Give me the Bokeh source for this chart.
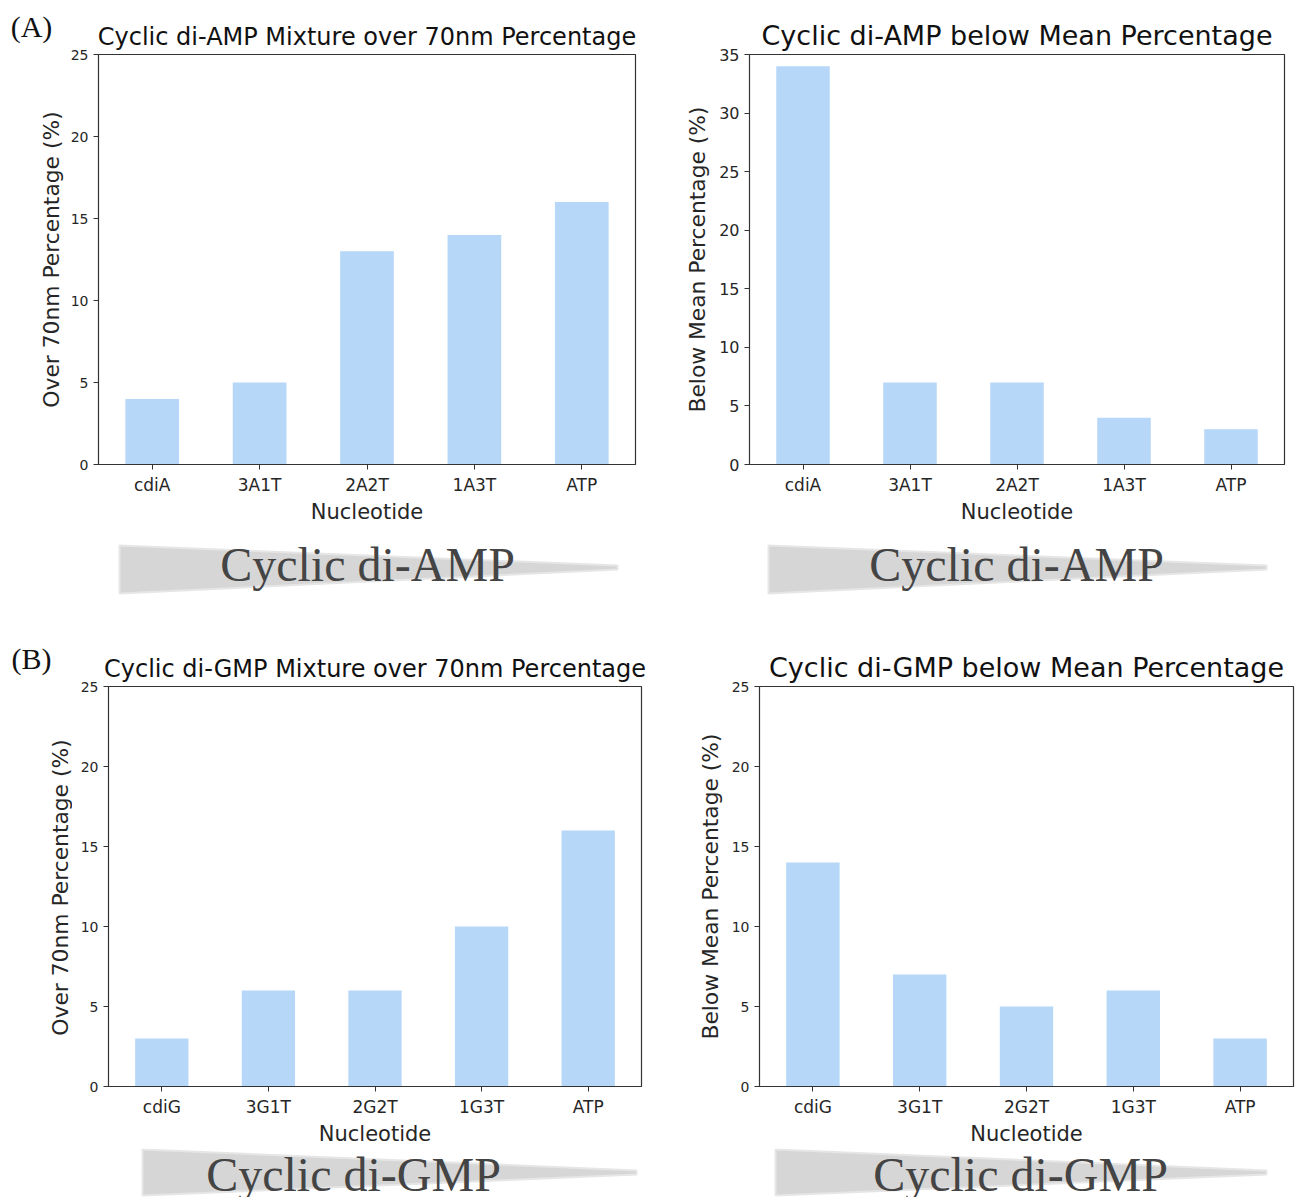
import math
from bokeh.plotting import figure
from bokeh.layouts import column, row
from bokeh.models import Range1d, FactorRange, FixedTicker, LinearAxis
from bokeh.embed import file_html
from bokeh.resources import INLINE
from bokeh.core.properties import value

# ---------------- data ----------------
amp_categories = ["cdiA", "3A1T", "2A2T", "1A3T", "ATP"]
gmp_categories = ["cdiG", "3G1T", "2G2T", "1G3T", "ATP"]
amp_over70 = [4, 5, 13, 14, 16]
amp_below_mean = [34, 7, 7, 4, 3]
gmp_over70 = [3, 6, 6, 10, 16]
gmp_below_mean = [14, 7, 5, 6, 3]
ticks_25 = [0, 5, 10, 15, 20, 25]
ticks_35 = [0, 5, 10, 15, 20, 25, 30, 35]

BAR = "#b6d7f8"
INK = "#262626"
SANS = "DejaVu Sans"
SERIF = "Liberation Serif"
YLABEL_SIZE = "21.8px"
XLABEL_SIZE = "21px"


def panel(cats, vals, title, ylabel, ticks, ymax, width, height,
          bl, br, bt, bb, title_size, ytick_size):
    p = figure(x_range=FactorRange(*cats), y_range=Range1d(0, ymax),
               width=width, height=height, output_backend="svg",
               toolbar_location=None, title=title,
               min_border_left=bl, min_border_right=br,
               min_border_top=bt, min_border_bottom=bb)
    p.vbar(x=cats, top=vals, width=0.5, fill_color=BAR, line_color=None)
    p.grid.visible = False
    p.outline_line_color = "#333333"
    p.outline_line_width = 1.2
    p.title.align = "center"
    p.title.text_font = SANS
    p.title.text_font_style = "normal"
    p.title.text_font_size = title_size
    p.title.text_color = "#111111"
    p.title.standoff = 8
    for ax in (p.xaxis[0], p.yaxis[0]):
        ax.axis_line_color = "#333333"
        ax.major_tick_line_color = "#333333"
        ax.major_tick_out = 5
        ax.major_tick_in = 0
        ax.minor_tick_line_color = None
        ax.major_label_text_font = SANS
        ax.major_label_text_color = INK
        ax.axis_label_text_font = SANS
        ax.axis_label_text_font_style = "normal"
        ax.axis_label_text_color = INK
        ax.major_label_standoff = 5
    p.yaxis.ticker = FixedTicker(ticks=ticks)
    p.yaxis.major_label_text_font_size = ytick_size
    if ylabel:
        p.yaxis.axis_label = ylabel
        p.yaxis.axis_label_standoff = 6
        p.yaxis.axis_label_text_font_size = YLABEL_SIZE
    p.xaxis.major_label_text_font_size = "17px"
    p.xaxis.axis_label = "Nucleotide"
    p.xaxis.axis_label_standoff = 2
    p.xaxis.axis_label_text_font_size = XLABEL_SIZE
    return p


def strip(width, height, bt, bb, frame_top, frame_bottom, label, lx,
          ylabel, yx, yy):
    # narrow figure left of a panel; its frame is aligned with the panel's frame,
    # data coordinates are page pixels
    p = figure(width=width, height=height,
               x_range=Range1d(0, width), y_range=Range1d(frame_bottom, frame_top),
               x_axis_type=None, y_axis_type=None, toolbar_location=None,
               output_backend="svg", min_border_left=0, min_border_right=0,
               min_border_top=bt, min_border_bottom=bb, outline_line_color=None)
    # panel letter, drawn as the single label of an invisible top axis
    ax = LinearAxis(ticker=FixedTicker(ticks=[lx]),
                    major_label_overrides={lx: label},
                    axis_line_color=None, major_tick_line_color=None,
                    minor_tick_line_color=None, major_tick_out=0,
                    major_tick_in=0, major_label_standoff=12,
                    major_label_text_font=SERIF,
                    major_label_text_font_size="30px",
                    major_label_text_color="#111111")
    p.add_layout(ax, "above")
    p.text(x=[yx], y=[yy], text=[ylabel], angle=math.pi / 2,
           text_font=value(SANS), text_font_size=YLABEL_SIZE, text_color=INK,
           text_align="center", text_baseline="middle")
    return p


def wedge(x0, x1, y0, y1, xs, ys, text, tx, ty):
    # decorative wedge with its caption; data coords = page pixels
    p = figure(width=x1 - x0, height=y1 - y0,
               x_range=Range1d(x0, x1), y_range=Range1d(y1, y0),
               x_axis_type=None, y_axis_type=None, toolbar_location=None,
               output_backend="svg", min_border=0, outline_line_color=None)
    p.patch(xs, ys, fill_color="#d6d6d6", line_color="#e6e6e6", line_width=2)
    p.text(x=[tx], y=[ty], text=[text], text_font=value(SERIF),
           text_font_size="48px", text_color="#444444",
           text_align="center", text_baseline="middle")
    return p


# ---------------- row (A) ----------------
sa = strip(66, 530, 54, 66, 54, 464, "(A)", 31,
           "Over 70nm Percentage (%)", 51, 259)
a1 = panel(amp_categories, amp_over70,
           "Cyclic di-AMP Mixture over 70nm Percentage", None, ticks_25, 25,
           599, 530, 32, 30, 54, 66, "24px", "14px")
a2 = panel(amp_categories, amp_below_mean,
           "Cyclic di-AMP below Mean Percentage",
           "Below Mean Percentage (%)", ticks_35, 35,
           636, 530, 84, 17, 54, 66, "27px", "16px")

wa1 = wedge(0, 665, 530, 610, [119, 617, 617, 119], [545, 565, 569, 593],
            "Cyclic di-AMP", 367, 564)
wa2 = wedge(665, 1301, 530, 610, [768, 1266, 1266, 768], [545, 565, 569, 593],
            "Cyclic di-AMP", 1016, 564)

# ---------------- row (B) ----------------
sb = strip(72, 538, 76, 56, 686, 1092, "(B)", 31,
           "Over 70nm Percentage (%)", 60, 890)
b1 = panel(gmp_categories, gmp_over70,
           "Cyclic di-GMP Mixture over 70nm Percentage", None, ticks_25, 25,
           598, 538, 36, 29, 76, 56, "24px", "14px")
b2 = panel(gmp_categories, gmp_below_mean,
           "Cyclic di-GMP below Mean Percentage",
           "Below Mean Percentage (%)", ticks_25, 25,
           631, 538, 89, 8, 76, 56, "27px", "14px")

wb1 = wedge(0, 670, 1148, 1197, [142, 636, 636, 142], [1149, 1170, 1174, 1195],
            "Cyclic di-GMP", 353, 1174)
wb2 = wedge(670, 1301, 1148, 1197, [775, 1266, 1266, 775], [1149, 1170, 1174, 1195],
            "Cyclic di-GMP", 1020, 1174)

layout = column(row(sa, a1, a2), row(wa1, wa2), row(sb, b1, b2), row(wb1, wb2))

open("out.html", "w").write(file_html(layout, INLINE))
